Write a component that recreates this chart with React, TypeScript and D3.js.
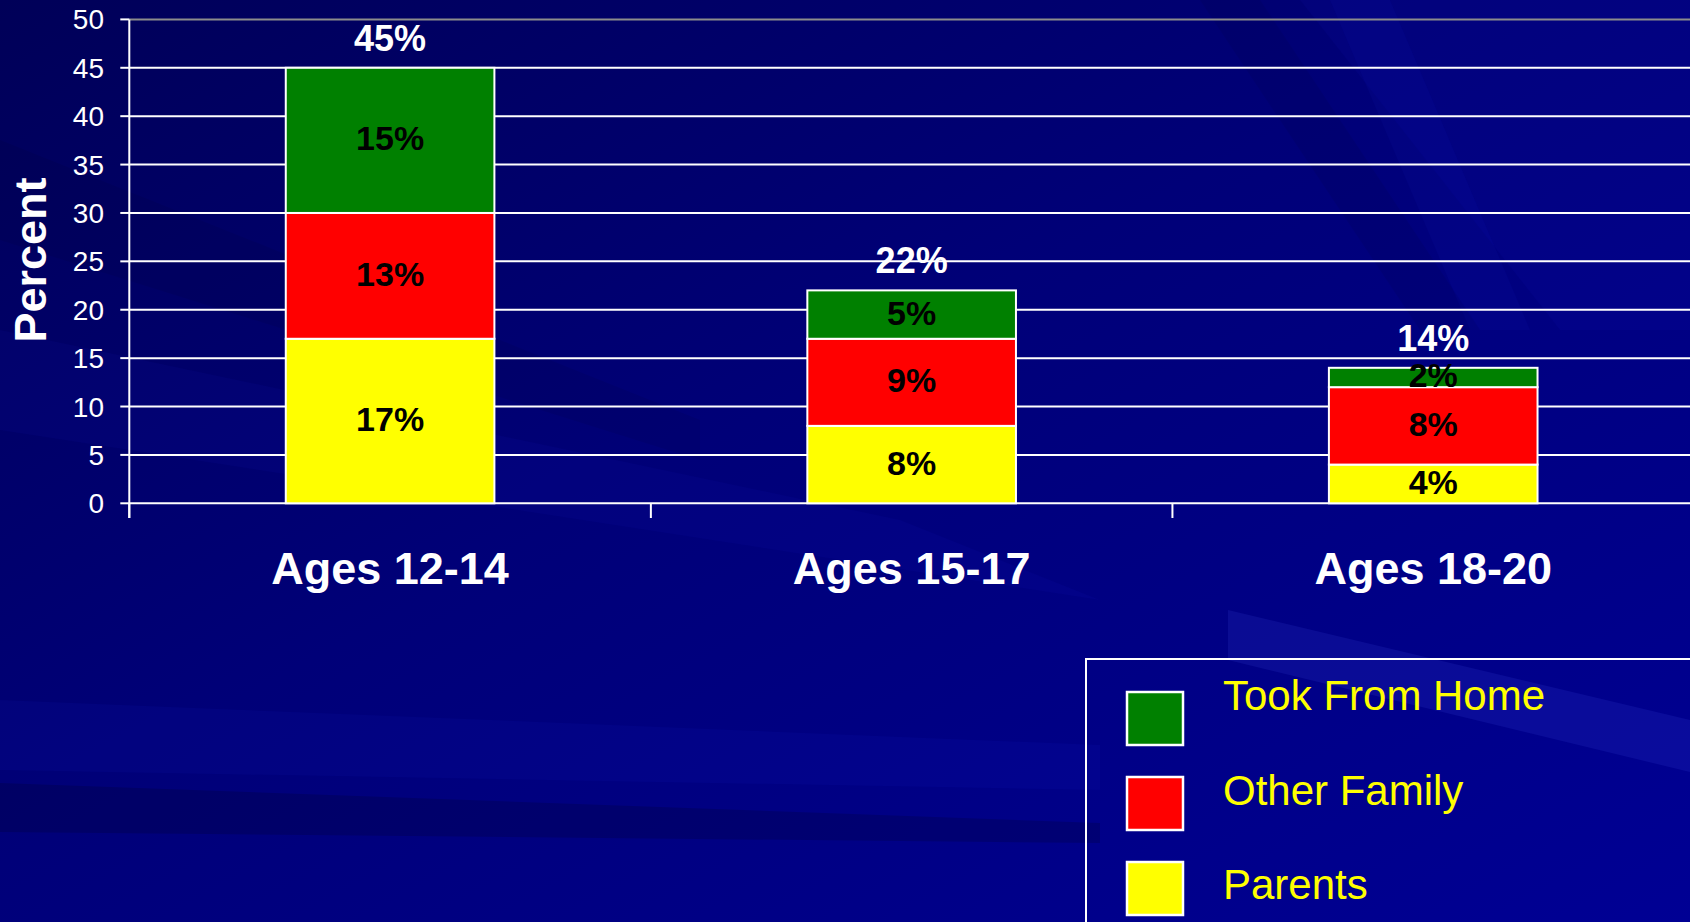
import * as d3 from "d3";

const W = 1690;
const H = 922;

const categories = ["Ages 12-14", "Ages 15-17", "Ages 18-20"];
const parents = [17, 8, 4];
const otherFamily = [13, 9, 8];
const tookFromHome = [15, 5, 2];
const totals = [45, 22, 14];

const seriesKeys = ["parents", "other", "took"];
const seriesColors = { parents: "#FFFF00", other: "#FF0000", took: "#008000" };
const legendNames = ["Took From Home", "Other Family", "Parents"];
const legendKeys = ["took", "other", "parents"];

const yTickValues = [0, 5, 10, 15, 20, 25, 30, 35, 40, 45, 50];

const margin = { left: 129.3, top: 19.4, bottom: 503.3, right: 1694 };

const font = "'Liberation Sans', Arial, sans-serif";

const rows = categories.map((c, i) => ({
  cat: c,
  parents: parents[i],
  other: otherFamily[i],
  took: tookFromHome[i],
}));

export default function App() {
  const x = d3
    .scaleBand()
    .domain(categories)
    .range([margin.left, margin.right])
    .paddingInner(0.6)
    .paddingOuter(0.3);

  const y = d3.scaleLinear().domain([0, 50]).range([margin.bottom, margin.top]);

  const stacked = d3.stack().keys(seriesKeys)(rows as any);
  const step = x.step();

  return (
    <svg
      width={W}
      height={H}
      viewBox={`0 0 ${W} ${H}`}
      style={{ position: "absolute", left: 0, top: 0, display: "block" }}
    >
      <defs>
        <linearGradient id="bg" x1="0" y1="0" x2="1" y2="1">
          <stop offset="0" stopColor="#000058" />
          <stop offset="0.45" stopColor="#000078" />
          <stop offset="1" stopColor="#000094" />
        </linearGradient>
      </defs>

      {/* background + streaks */}
      <rect x={0} y={0} width={W} height={H} fill="url(#bg)" />
      <polygon points="0,140 700,420 700,460 0,240" fill="#000" opacity={0.06} />
      <polygon points="0,330 900,520 1100,600 0,430" fill="#2030ff" opacity={0.05} />
      <polygon points="1300,0 1690,0 1690,330 1560,330" fill="#2030ff" opacity={0.05} />
      <polygon points="1330,0 1390,0 1530,330 1470,330" fill="#3040ff" opacity={0.05} />
      <polygon points="1200,0 1260,0 1480,330 1420,330" fill="#000" opacity={0.06} />
      <polygon points="1228,610 1690,720 1690,772 1228,660" fill="#5060ff" opacity={0.12} />
      <polygon points="0,700 1100,745 1100,790 0,770" fill="#2030ff" opacity={0.06} />
      <polygon points="0,783 1100,823 1100,843 0,832" fill="#000" opacity={0.15} />

      {/* gridlines */}
      <g>
        {yTickValues.map((t) => (
          <line
            key={t}
            x1={margin.left}
            x2={margin.right}
            y1={y(t)}
            y2={y(t)}
            stroke={t === 50 ? "#8c8c8c" : "#ffffff"}
            strokeWidth={2}
          />
        ))}
      </g>

      {/* y axis */}
      <g>
        <line x1={margin.left} x2={margin.left} y1={margin.top} y2={518} stroke="#fff" strokeWidth={2} />
        {yTickValues.map((t) => (
          <g key={t}>
            <line x1={margin.left - 9} x2={margin.left} y1={y(t)} y2={y(t)} stroke="#fff" strokeWidth={2} />
            <text
              x={104}
              y={y(t) + 10}
              textAnchor="end"
              fill="#fff"
              fontFamily={font}
              fontSize={28}
            >
              {t}
            </text>
          </g>
        ))}
        <text
          transform={`translate(46,260) rotate(-90)`}
          textAnchor="middle"
          fill="#fff"
          fontFamily={font}
          fontSize={45}
          fontWeight="bold"
        >
          Percent
        </text>
      </g>

      {/* category ticks */}
      <g>
        {categories.map((c, i) => (
          <line
            key={c}
            x1={margin.left + step * i}
            x2={margin.left + step * i}
            y1={margin.bottom}
            y2={518}
            stroke="#fff"
            strokeWidth={2}
          />
        ))}
        {categories.map((c) => (
          <text
            key={c}
            x={(x(c) as number) + x.bandwidth() / 2}
            y={584}
            textAnchor="middle"
            fill="#fff"
            fontFamily={font}
            fontSize={45}
            fontWeight="bold"
          >
            {c}
          </text>
        ))}
      </g>

      {/* bars */}
      <g>
        {stacked.map((s) =>
          s.map((d, i) => (
            <rect
              key={s.key + i}
              x={x(categories[i])}
              width={x.bandwidth()}
              y={y(d[1])}
              height={y(d[0]) - y(d[1])}
              fill={(seriesColors as any)[s.key]}
              stroke="#fff"
              strokeWidth={2}
            />
          ))
        )}
        {stacked.map((s) =>
          s.map((d, i) => (
            <text
              key={"l" + s.key + i}
              x={(x(categories[i]) as number) + x.bandwidth() / 2}
              y={y((d[0] + d[1]) / 2) + 10}
              textAnchor="middle"
              fill="#000"
              fontFamily={font}
              fontSize={34}
              fontWeight="bold"
            >
              {d[1] - d[0]}%
            </text>
          ))
        )}
        {totals.map((t, i) => (
          <text
            key={"t" + i}
            x={(x(categories[i]) as number) + x.bandwidth() / 2}
            y={y(t) - 17}
            textAnchor="middle"
            fill="#fff"
            fontFamily={font}
            fontSize={36}
            fontWeight="bold"
          >
            {t}%
          </text>
        ))}
      </g>

      {/* legend */}
      <g>
        <rect x={1086} y={659} width={700} height={400} fill="none" stroke="#fff" strokeWidth={2} />
        {legendKeys.map((k, i) => (
          <g key={k}>
            <rect
              x={1127}
              y={692 + i * 85}
              width={56}
              height={53}
              fill={(seriesColors as any)[k]}
              stroke="#fff"
              strokeWidth={2.5}
            />
            <text
              x={1223}
              y={710 + i * 94.5}
              fill="#FFFF00"
              fontFamily={font}
              fontSize={42}
            >
              {legendNames[i]}
            </text>
          </g>
        ))}
      </g>
    </svg>
  );
}
